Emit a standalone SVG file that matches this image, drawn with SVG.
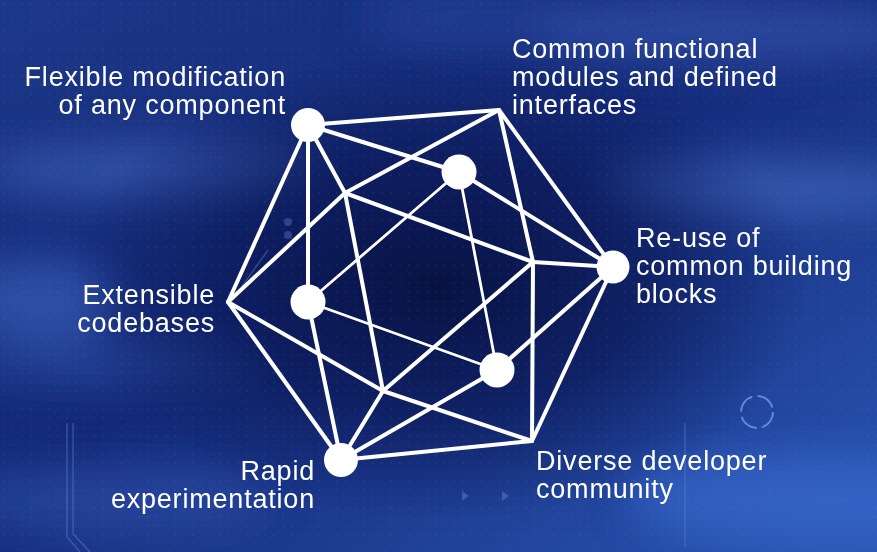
<svg xmlns="http://www.w3.org/2000/svg" width="877" height="552" viewBox="0 0 877 552">
  <defs>
    <linearGradient id="bgBase" x1="0" y1="0" x2="1" y2="1">
      <stop offset="0" stop-color="#1c3888"/>
      <stop offset="0.45" stop-color="#142a78"/>
      <stop offset="1" stop-color="#2a56b4"/>
    </linearGradient>
    <radialGradient id="core" cx="0.5" cy="0.52" r="0.42">
      <stop offset="0" stop-color="#07113f" stop-opacity="0.95"/>
      <stop offset="0.55" stop-color="#0b1855" stop-opacity="0.7"/>
      <stop offset="1" stop-color="#0c1b5a" stop-opacity="0"/>
    </radialGradient>
    <filter id="haze" x="-60%" y="-60%" width="220%" height="220%">
      <feGaussianBlur stdDeviation="20"/>
    </filter>
    <filter id="soft" x="-20%" y="-20%" width="140%" height="140%">
      <feGaussianBlur stdDeviation="0.6"/>
    </filter>
    <pattern id="dots" width="9" height="9" patternUnits="userSpaceOnUse">
      <rect x="3" y="3" width="2" height="2" fill="#8aa6e6"/>
    </pattern>
    <style>
      .edge { stroke: #ffffff; stroke-width: 4; stroke-linecap: round; fill: none; }
      .back { stroke: #ffffff; stroke-width: 2.8; stroke-linecap: round; fill: none; }
      .dot { fill: #ffffff; }
      .label { font-family: "Liberation Sans", Arial, Helvetica, sans-serif; font-size: 27px; letter-spacing: 0.8px; fill: #ffffff; }
      .deco { stroke: #5c80d2; stroke-width: 1.2; fill: none; opacity: 0.55; }
    </style>
  </defs>

  <!-- background -->
  <rect width="877" height="552" fill="url(#bgBase)"/>
  <g filter="url(#haze)">
    <ellipse cx="150" cy="170" rx="170" ry="28" fill="#3a5cb4" opacity="0.7"/>
    <ellipse cx="40" cy="300" rx="80" ry="40" fill="#3b63c2" opacity="0.6"/>
    <ellipse cx="120" cy="360" rx="150" ry="22" fill="#3456b0" opacity="0.5"/>
    <ellipse cx="760" cy="190" rx="160" ry="30" fill="#4366bf" opacity="0.65"/>
    <ellipse cx="720" cy="30" rx="190" ry="35" fill="#3a5db8" opacity="0.55"/>
    <ellipse cx="800" cy="500" rx="170" ry="45" fill="#3768cc" opacity="0.7"/>
    <ellipse cx="110" cy="500" rx="160" ry="35" fill="#2f52ad" opacity="0.55"/>
    <ellipse cx="480" cy="20" rx="120" ry="25" fill="#2d4aa4" opacity="0.5"/>
  </g>
  <rect width="877" height="552" fill="url(#core)"/>
  <rect width="877" height="552" fill="url(#dots)" opacity="0.07"/>

  <!-- faint circuit decoration -->
  <g id="decor">
    <path class="deco" d="M67 423 V537 L80 552"/>
    <path class="deco" d="M73 423 V534 L90 552"/>
    <path class="deco" d="M685 423 V547"/>
    <path class="deco" d="M232 300 L268 250" opacity="0.35"/>
    <circle cx="288" cy="222" r="4" fill="#4a6cc0" opacity="0.5"/>
    <circle cx="288" cy="235" r="4" fill="#4a6cc0" opacity="0.5"/>
    <circle cx="757" cy="412" r="16" stroke="#6e96e2" stroke-width="1.8" fill="none" stroke-dasharray="20 5.1" opacity="0.85"/>
    <path d="M462 491 L469 496 L462 501 Z" fill="#4a6bbf" opacity="0.7"/>
    <path d="M502 491 L509 496 L502 501 Z" fill="#4a6bbf" opacity="0.7"/>
  </g>

  <!-- connectors -->
  <g id="connectors" filter="url(#soft)">
    <!-- rear triangle -->
    <line class="back" x1="459" y1="172" x2="308" y2="302"/>
    <line class="back" x1="308" y1="302" x2="497" y2="370"/>
    <line class="back" x1="497" y1="370" x2="459" y2="172"/>
    <!-- rear vertices to rim -->
    <line class="edge" x1="459" y1="172" x2="308" y2="125"/>
    <line class="edge" x1="459" y1="172" x2="613" y2="267"/>
    <line class="edge" x1="308" y1="302" x2="308" y2="125"/>
    <line class="edge" x1="308" y1="302" x2="341" y2="460"/>
    <line class="edge" x1="497" y1="370" x2="613" y2="267"/>
    <line class="edge" x1="497" y1="370" x2="341" y2="460"/>
    <!-- outer rim -->
    <polygon class="edge" stroke-linejoin="round" points="308,125 499,110 613,267 532,441 341,460 228,302"/>
    <!-- front triangle -->
    <polygon class="edge" stroke-linejoin="round" points="345,193 533,262 383,391"/>
    <!-- front vertices to rim -->
    <line class="edge" x1="345" y1="193" x2="308" y2="125"/>
    <line class="edge" x1="345" y1="193" x2="499" y2="110"/>
    <line class="edge" x1="345" y1="193" x2="228" y2="302"/>
    <line class="edge" x1="533" y1="262" x2="499" y2="110"/>
    <line class="edge" x1="533" y1="262" x2="613" y2="267"/>
    <line class="edge" x1="533" y1="262" x2="532" y2="441"/>
    <line class="edge" x1="383" y1="391" x2="532" y2="441"/>
    <line class="edge" x1="383" y1="391" x2="341" y2="460"/>
    <line class="edge" x1="383" y1="391" x2="228" y2="302"/>
  </g>

  <!-- nodes -->
  <g id="node-flexible">
    <circle class="dot" cx="308" cy="125" r="17"/>
    <text class="label" text-anchor="end"><tspan x="286" y="86">Flexible modification</tspan><tspan x="286" y="114">of any component</tspan></text>
  </g>
  <g id="node-common-modules">
    <text class="label"><tspan x="512" y="58">Common functional</tspan><tspan x="512" y="86">modules and defined</tspan><tspan x="512" y="114">interfaces</tspan></text>
  </g>
  <g id="node-reuse">
    <circle class="dot" cx="613" cy="267" r="16.5"/>
    <text class="label"><tspan x="636" y="247">Re-use of</tspan><tspan x="636" y="275">common building</tspan><tspan x="636" y="303">blocks</tspan></text>
  </g>
  <g id="node-diverse">
    <text class="label"><tspan x="536" y="470">Diverse developer</tspan><tspan x="536" y="498">community</tspan></text>
  </g>
  <g id="node-rapid">
    <circle class="dot" cx="341" cy="460" r="17"/>
    <text class="label" text-anchor="end"><tspan x="315" y="480">Rapid</tspan><tspan x="315" y="508">experimentation</tspan></text>
  </g>
  <g id="node-extensible">
    <text class="label" text-anchor="end"><tspan x="215" y="304">Extensible</tspan><tspan x="215" y="332">codebases</tspan></text>
  </g>
  <g id="node-inner-top">
    <circle class="dot" cx="459" cy="172" r="17.5"/>
  </g>
  <g id="node-inner-left">
    <circle class="dot" cx="308" cy="302" r="17.5"/>
  </g>
  <g id="node-inner-bottom">
    <circle class="dot" cx="497" cy="370" r="17.5"/>
  </g>
</svg>
